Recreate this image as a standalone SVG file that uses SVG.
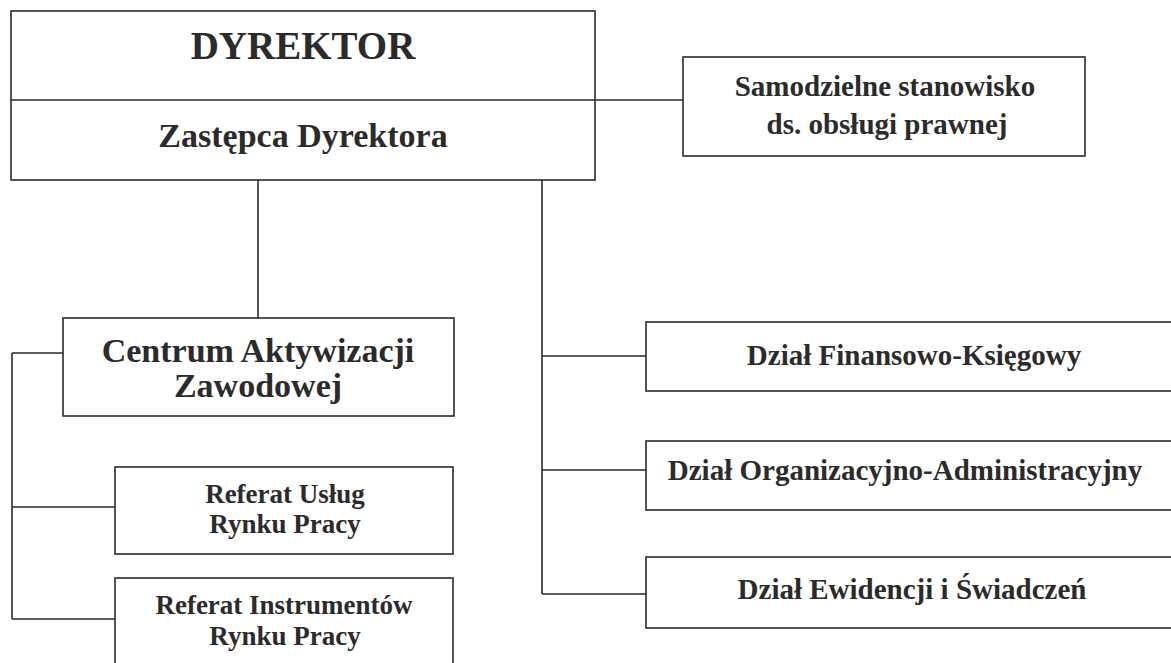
<svg xmlns="http://www.w3.org/2000/svg" width="1171" height="663" viewBox="0 0 1171 663">
<style>
.box{fill:#fff;stroke:#2a2a2a;stroke-width:1.6}
.ln{fill:none;stroke:#2a2a2a;stroke-width:1.6}
text{font-family:"Liberation Serif","Times New Roman",serif;font-weight:bold;fill:#2b2b2b;text-anchor:middle}
.t39{font-size:39px}.t34{font-size:34px}.t29{font-size:29px}.t27{font-size:27px}
</style>
<rect width="1171" height="663" fill="#fff"/>
<g id="connectors">
<path class="ln" d="M595 100H683"/>
<path class="ln" d="M258 180V318"/>
<path class="ln" d="M542 180V594M542 356H646M542 470H646M542 594H646"/>
<path class="ln" d="M12 353V619M12 353H63M12 507H115M12 619H115"/>
</g>
<g id="dyrektor">
<rect class="box" x="11" y="11" width="584" height="169"/>
<path class="ln" d="M11 100H595"/>
<text class="t39" x="303" y="59">DYREKTOR</text>
<text class="t34" x="303" y="147">Zastępca Dyrektora</text>
</g>
<g id="prawny">
<rect class="box" x="683" y="57" width="402" height="99"/>
<text class="t29" x="885" y="96">Samodzielne stanowisko</text>
<text class="t29" x="887" y="134">ds. obsługi prawnej</text>
</g>
<g id="centrum">
<rect class="box" x="63" y="318" width="391" height="98"/>
<text class="t34" x="258" y="362">Centrum Aktywizacji</text>
<text class="t34" x="258" y="397">Zawodowej</text>
</g>
<g id="referat-uslug">
<rect class="box" x="115" y="467" width="338" height="87"/>
<text class="t27" x="285" y="503">Referat Usług</text>
<text class="t27" x="285" y="533">Rynku Pracy</text>
</g>
<g id="referat-instrumentow">
<rect class="box" x="115" y="578" width="338" height="95"/>
<text class="t27" x="284" y="614">Referat Instrumentów</text>
<text class="t27" x="285" y="645">Rynku Pracy</text>
</g>
<g id="dzial-fk">
<rect class="box" x="646" y="322" width="540" height="69"/>
<text class="t29" x="914" y="365">Dział Finansowo-Księgowy</text>
</g>
<g id="dzial-oa">
<rect class="box" x="646" y="441" width="540" height="69"/>
<text class="t29" x="905" y="480">Dział Organizacyjno-Administracyjny</text>
</g>
<g id="dzial-ew">
<rect class="box" x="646" y="557" width="540" height="71"/>
<text class="t29" x="912" y="599">Dział Ewidencji i Świadczeń</text>
</g>
</svg>
